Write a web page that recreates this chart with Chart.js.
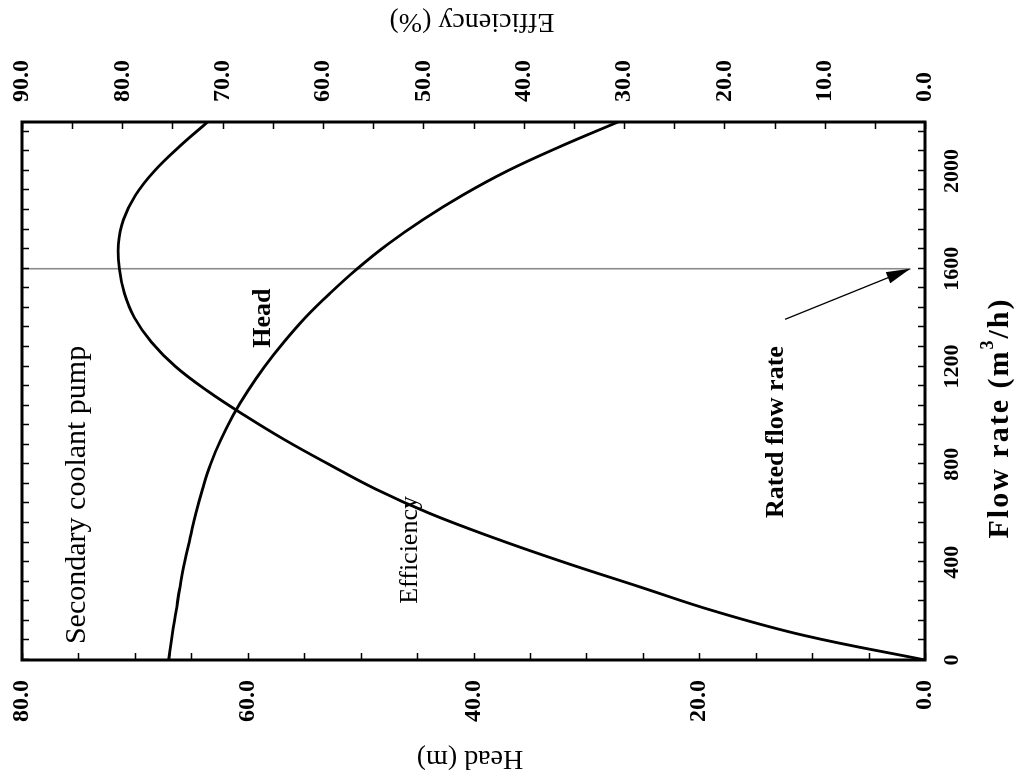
<!DOCTYPE html>
<html>
<head>
<meta charset="utf-8">
<script src="https://cdn.jsdelivr.net/npm/chart.js@4/dist/chart.umd.min.js"></script>
<style>
  html, body { margin: 0; padding: 0; background: #fff; overflow: hidden; }
  /* The chart is laid out upright and turned a quarter turn counter-clockwise on the page */
  #frame {
    position: absolute; left: 0; top: 0;
    width: 776px; height: 1020px;
    transform-origin: 0 0;
    transform: translateY(776px) rotate(-90deg);
  }
</style>
</head>
<body>
<div id="frame"><canvas id="pump" width="776" height="1020"></canvas></div>
<script>
// Pump characteristic: flow rate (m3/h) against head (m) and efficiency (%)
const flowRate = [0, 100, 200, 300, 400, 500, 600, 700, 800, 900, 1000, 1100,
                  1200, 1300, 1400, 1500, 1600, 1700, 1800, 1900, 2000, 2100, 2200];
const headM = [67.0, 66.7, 66.35, 66.0, 65.6, 65.1, 64.6, 64.0, 63.3, 62.4, 61.3, 60.0,
               58.5, 56.8, 54.9, 52.7, 50.3, 47.6, 44.5, 41.0, 37.0, 32.3, 27.2];
const efficiencyPct = [0, 12.0, 21.0, 28.5, 36.0, 43.0, 49.4, 54.8, 59.4, 63.8, 67.8, 71.5,
                       74.7, 77.1, 78.8, 79.8, 80.3, 80.4, 79.9, 78.7, 76.8, 74.3, 71.5];

// Rated operating point marker
const ratedFlow = 1600;
const ratedLineHead = [1.3, 80];
const arrowTail = [1393, 12.4];   // [flow, head]
const arrowTip = [1600, 1.3];

// Axis tick labels
const flowTickLabels = ['0', '400', '800', '1200', '1600', '2000'];
const headTickLabels = ['0.0', '20.0', '40.0', '60.0', '80.0'];
const effTickLabels = ['0.0', '10.0', '20.0', '30.0', '40.0', '50.0', '60.0', '70.0', '80.0', '90.0'];

// Text placed inside the plot: [text, flow, head, weight, size]
const notes = [
  ['Secondary coolant pump', 675, 75.1, 'normal', 30],
  ['Head', 1398, 58.6, 'bold', 26],
  ['Efficiency', 450, 45.6, 'normal', 26],
  ['Rated flow rate', 932, 13.2, 'bold', 26]
];

const SERIF = "'Liberation Serif', 'Times New Roman', serif";

const pts = (xs, ys) => xs.map((x, i) => ({ x: x, y: ys[i] }));

// scales keep exactly the box they are given
const fixBox = (dim, size) => s => {
  s[dim] = size;
  s.paddingTop = 0; s.paddingBottom = 0; s.paddingLeft = 0; s.paddingRight = 0;
};

const decorations = {
  id: 'decorations',
  afterDatasetsDraw(chart) {
    const ctx = chart.ctx;
    const a = chart.chartArea;
    const xs = chart.scales.x, ys = chart.scales.y, es = chart.scales.y2;
    ctx.save();

    // arrow head on the rated-flow pointer
    const meta = chart.getDatasetMeta(3);
    const p1 = meta.data[0], p2 = meta.data[1];
    const ang = Math.atan2(p2.y - p1.y, p2.x - p1.x);
    const L = 24, W = 6;
    ctx.fillStyle = '#000';
    ctx.beginPath();
    ctx.moveTo(p2.x, p2.y);
    ctx.lineTo(p2.x - L * Math.cos(ang) + W * Math.sin(ang), p2.y - L * Math.sin(ang) - W * Math.cos(ang));
    ctx.lineTo(p2.x - L * Math.cos(ang) - W * Math.sin(ang), p2.y - L * Math.sin(ang) + W * Math.cos(ang));
    ctx.closePath();
    ctx.fill();

    // inward tick marks on all four sides
    ctx.strokeStyle = '#000';
    ctx.lineWidth = 1.5;
    const T = 7;
    ctx.beginPath();
    xs.ticks.forEach(t => {
      const px = Math.round(xs.getPixelForValue(t.value)) + 0.5;
      ctx.moveTo(px, a.bottom); ctx.lineTo(px, a.bottom - T);
      ctx.moveTo(px, a.top); ctx.lineTo(px, a.top + T);
    });
    ys.ticks.forEach(t => {
      const py = Math.round(ys.getPixelForValue(t.value)) + 0.5;
      ctx.moveTo(a.left, py); ctx.lineTo(a.left + T, py);
    });
    es.ticks.forEach(t => {
      const py = Math.round(es.getPixelForValue(t.value)) + 0.5;
      ctx.moveTo(a.right, py); ctx.lineTo(a.right - T, py);
    });
    ctx.stroke();

    // frame
    ctx.lineWidth = 3;
    ctx.strokeRect(a.left, a.top, a.right - a.left, a.bottom - a.top);

    // notes inside the plot
    ctx.fillStyle = '#000';
    ctx.textAlign = 'center';
    ctx.textBaseline = 'middle';
    notes.forEach(([txt, f, h, wt, sz]) => {
      ctx.font = wt + ' ' + sz + 'px ' + SERIF;
      ctx.fillText(txt, xs.getPixelForValue(f), ys.getPixelForValue(h));
    });

    // flow-rate title with superscript
    const big = 'bold 30px ' + SERIF, small = 'bold 18px ' + SERIF;
    const partA = 'Flow rate (m', partB = '3', partC = '/h)';
    ctx.letterSpacing = '2px';
    ctx.font = big; const wa = ctx.measureText(partA).width, wc = ctx.measureText(partC).width;
    ctx.font = small; const wb = ctx.measureText(partB).width;
    let tx = 358 - (wa + wb + wc) / 2;
    const ty = 1000;
    ctx.textAlign = 'left';
    ctx.font = big; ctx.fillText(partA, tx, ty); tx += wa;
    ctx.font = small; ctx.fillText(partB, tx, ty - 12); tx += wb;
    ctx.font = big; ctx.fillText(partC, tx, ty);
    ctx.letterSpacing = '0px';

    // side titles, both turned the same way
    ctx.textAlign = 'center';
    ctx.font = 'normal 28px ' + SERIF;
    [['Head (m)', 18, 470], ['Efficiency (%)', 755, 472]].forEach(([txt, cx, cy]) => {
      ctx.save();
      ctx.translate(cx, cy);
      ctx.rotate(-Math.PI / 2);
      ctx.fillText(txt, 0, 0);
      ctx.restore();
    });

    ctx.restore();
  }
};

const flowFont = { family: SERIF, weight: 'bold', size: 22 };
const valueFont = { family: SERIF, weight: 'bold', size: 24 };

new Chart(document.getElementById('pump'), {
  type: 'line',
  data: {
    datasets: [
      { label: 'Head', data: pts(flowRate, headM), yAxisID: 'y',
        borderColor: '#000', borderWidth: 2.8, pointRadius: 0, tension: 0.4 },
      { label: 'Efficiency', data: pts(flowRate, efficiencyPct), yAxisID: 'y2',
        borderColor: '#000', borderWidth: 2.8, pointRadius: 0, tension: 0.4 },
      { label: 'Rated flow', data: [{ x: ratedFlow, y: ratedLineHead[0] }, { x: ratedFlow, y: ratedLineHead[1] }],
        yAxisID: 'y', borderColor: '#8a8a8a', borderWidth: 1.6, pointRadius: 0, tension: 0 },
      { label: 'Pointer', data: [{ x: arrowTail[0], y: arrowTail[1] }, { x: arrowTip[0], y: arrowTip[1] }],
        yAxisID: 'y', borderColor: '#000', borderWidth: 1.3, pointRadius: 0, tension: 0 }
    ]
  },
  options: {
    responsive: false,
    devicePixelRatio: 1,
    animation: false,
    layout: { padding: { top: 22, left: 0, right: 0, bottom: 0 } },
    plugins: { legend: { display: false }, tooltip: { enabled: false } },
    scales: {
      x: {
        type: 'linear', position: 'bottom', min: 0, max: 2200,
        afterFit: fixBox('height', 95),
        grid: { display: false, drawTicks: false }, border: { display: false },
        ticks: {
          stepSize: 80, autoSkip: false, maxRotation: 0, minRotation: 0, includeBounds: false,
          padding: 14, color: '#000', font: flowFont,
          callback: v => (v % 400 === 0 ? flowTickLabels[v / 400] : '')
        }
      },
      y: {
        type: 'linear', position: 'left', min: 0, max: 80,
        afterFit: fixBox('width', 116),
        grid: { display: false, drawTicks: false }, border: { display: false },
        ticks: {
          stepSize: 5, autoSkip: false, includeBounds: false, padding: 20, color: '#000', font: valueFont,
          callback: v => (v % 20 === 0 ? headTickLabels[v / 20] : '')
        }
      },
      y2: {
        type: 'linear', position: 'right', min: 0, max: 90,
        afterFit: fixBox('width', 122),
        grid: { display: false, drawTicks: false }, border: { display: false },
        ticks: {
          stepSize: 5, autoSkip: false, includeBounds: false, padding: 20, color: '#000', font: valueFont,
          callback: v => (v % 10 === 0 ? effTickLabels[v / 10] : '')
        }
      }
    }
  },
  plugins: [decorations]
});
</script>
</body>
</html>
